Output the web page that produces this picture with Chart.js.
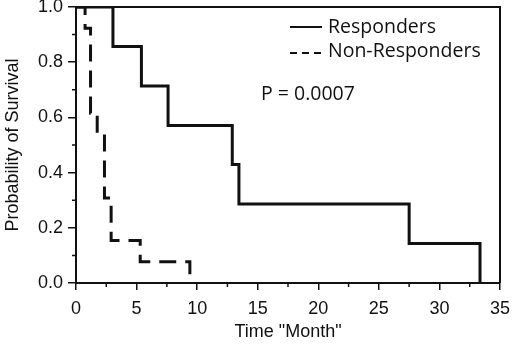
<!DOCTYPE html>
<html>
<head>
<meta charset="utf-8">
<script src="https://cdn.jsdelivr.net/npm/chart.js@4/dist/chart.umd.min.js"></script>
<style>
  html, body { margin: 0; padding: 0; background: #fff; }
  #wrap { width: 520px; height: 354px; }
</style>
</head>
<body>
<div id="wrap"><canvas id="km" width="520" height="354"></canvas></div>
<script>
// Kaplan-Meier steps (time in months, survival probability)
var respTimes = [0, 3.05, 5.4, 7.6, 12.9, 13.45, 27.5, 33.35];
var respSurv  = [1, 0.857, 0.714, 0.571, 0.429, 0.286, 0.143, 0];

var nonTimes = [0, 0.75, 1.2, 1.75, 2.35, 2.9, 5.3, 9.4];
var nonSurv  = [1, 0.923, 0.615, 0.538, 0.308, 0.154, 0.077, 0];

var seriesNames = ['Responders', 'Non-Responders'];
var pText = 'P = 0.0007';

var xMinorTicks = [2.5, 7.5, 12.5, 17.5, 22.5, 27.5, 32.5];
var yMinorTicks = [0.1, 0.3, 0.5, 0.7, 0.9];

var INK = '#111';
var AXIS_FONT = { family: '"Liberation Sans", Arial, sans-serif', size: 18 };
var NOTE_FONT = '19.5px "Open Sans", sans-serif';

function toPoints(xs, ys) {
    var pts = [];
    for (var i = 0; i < xs.length; i++) pts.push({ x: xs[i], y: ys[i] });
    return pts;
}

// frame, minor ticks, legend and p-value
var decor = {
    id: 'decor',
    afterDraw: function (chart) {
        var ctx = chart.ctx, a = chart.chartArea;
        var xs = chart.scales.x, ys = chart.scales.y;
        ctx.save();
        ctx.strokeStyle = INK;
        ctx.lineWidth = 2;
        ctx.beginPath();
        ctx.moveTo(a.left, a.top);
        ctx.lineTo(a.right, a.top);
        ctx.lineTo(a.right, a.bottom);
        ctx.stroke();

        ctx.lineWidth = 1.5;
        ctx.beginPath();
        xMinorTicks.forEach(function (v) {
            var px = xs.getPixelForValue(v);
            ctx.moveTo(px, a.bottom);
            ctx.lineTo(px, a.bottom + 4);
        });
        yMinorTicks.forEach(function (v) {
            var py = ys.getPixelForValue(v);
            ctx.moveTo(a.left, py);
            ctx.lineTo(a.left - 4, py);
        });
        ctx.stroke();

        // legend
        ctx.lineWidth = 2;
        ctx.beginPath();
        ctx.moveTo(290, 27);
        ctx.lineTo(322, 27);
        ctx.stroke();
        ctx.setLineDash([7, 5]);
        ctx.beginPath();
        ctx.moveTo(290, 53);
        ctx.lineTo(322, 53);
        ctx.stroke();
        ctx.setLineDash([]);

        ctx.fillStyle = INK;
        ctx.font = NOTE_FONT;
        ctx.textBaseline = 'alphabetic';
        ctx.textAlign = 'left';
        ctx.fillText(seriesNames[0], 328, 33);
        ctx.fillText(seriesNames[1], 328, 57);
        ctx.fillText(pText, 261, 100);
        ctx.restore();
    }
};

function noEndPadding(s) {
    s.paddingTop = 0;
    s.paddingBottom = 0;
    s.paddingLeft = 0;
    s.paddingRight = 0;
}

new Chart(document.getElementById('km'), {
    type: 'line',
    data: {
        datasets: [
            {
                label: seriesNames[0],
                data: toPoints(respTimes, respSurv),
                stepped: 'before',
                borderColor: INK,
                borderWidth: 3,
                pointRadius: 0,
                fill: false
            },
            {
                label: seriesNames[1],
                data: toPoints(nonTimes, nonSurv),
                stepped: 'before',
                borderColor: INK,
                borderWidth: 3,
                borderDash: [17, 9],
                pointRadius: 0,
                fill: false
            }
        ]
    },
    options: {
        responsive: false,
        animation: false,
        layout: { padding: { top: 7, right: 20, left: 0, bottom: 0 } },
        plugins: {
            legend: { display: false },
            tooltip: { enabled: false }
        },
        scales: {
            x: {
                type: 'linear',
                min: 0,
                max: 35,
                afterFit: function (s) { s.height = 71; noEndPadding(s); },
                ticks: { stepSize: 5, color: INK, font: AXIS_FONT, padding: 8, maxRotation: 0 },
                grid: { drawOnChartArea: false, color: INK, lineWidth: 1.5, tickLength: 7 },
                border: { color: INK, width: 2 },
                title: { display: true, text: 'Time "Month"', color: INK, font: AXIS_FONT, padding: { top: 4, bottom: 11 } }
            },
            y: {
                min: 0,
                max: 1,
                afterFit: function (s) { s.width = 76; noEndPadding(s); },
                ticks: {
                    stepSize: 0.2, color: INK, font: AXIS_FONT, padding: 5,
                    callback: function (v) { return v.toFixed(1); }
                },
                grid: { drawOnChartArea: false, color: INK, lineWidth: 1.5, tickLength: 8 },
                border: { color: INK, width: 2 },
                title: { display: true, text: 'Probability of Survival', color: INK, font: AXIS_FONT, padding: { top: 2, bottom: 0 } }
            }
        }
    },
    plugins: [decor]
});
</script>
</body>
</html>
